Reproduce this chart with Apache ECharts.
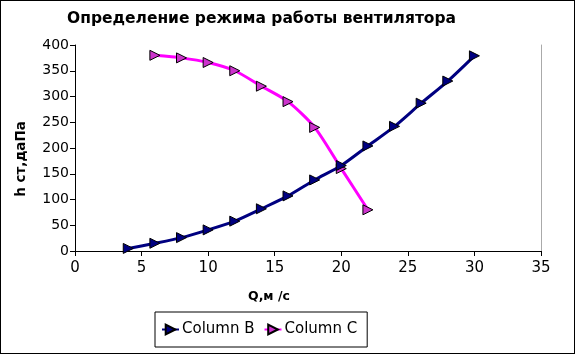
<!DOCTYPE html>
<html><head><meta charset="utf-8">
<script src="https://cdn.jsdelivr.net/npm/echarts@6/dist/echarts.min.js"></script>
<style>html,body{margin:0;padding:0;background:#fff}#c{width:575px;height:354px;box-sizing:border-box;border:1px solid #000}</style>
</head><body><div id="c"></div>
<script>
const titleText = 'Определение режима работы вентилятора';
const xName = 'Q,м /с';
const yName = 'h ст,даПа';
const qB = [4, 6, 8, 10, 12, 14, 16, 18, 20, 22, 24, 26, 28, 30];
const hB = [5, 15, 26, 41, 58, 82, 107, 138, 166, 204, 242, 287, 330, 379];
const qC = [6, 8, 10, 12, 14, 16, 18, 20, 22];
const hC = [380, 375, 366, 350, 320, 290, 240, 160, 80];
const nameB = 'Column B';
const nameC = 'Column C';

const chart = echarts.init(document.getElementById('c'));
const font = 'DejaVu Sans';
chart.setOption({
  animation: false,
  title: {text: titleText, left: 61, top: 5, textStyle: {fontFamily: font, fontSize: 15.5, fontWeight: 'bold', color: '#000'}},
  graphic: [
    {type: 'text', left: 247, top: 289, style: {text: xName, font: 'bold 12.5px "DejaVu Sans"', fill: '#000'}},
    {type: 'text', x: 20, y: 158, rotation: Math.PI / 2, style: {text: yName, font: 'bold 13.5px "DejaVu Sans"', fill: '#000', align: 'center', verticalAlign: 'middle'}}
  ],
  grid: {left: 74, right: 33, top: 44, bottom: 102, containLabel: false},
  xAxis: {type: 'value', min: 0, max: 35, interval: 5,
    axisLine: {lineStyle: {color: '#000', width: 1}},
    axisTick: {show: true, inside: false, length: 5, lineStyle: {color: '#000'}},
    axisLabel: {fontFamily: font, fontSize: 15, color: '#000', margin: 10},
    splitLine: {show: false}},
  yAxis: [{type: 'value', min: 0, max: 400, interval: 50,
    axisLine: {show: true, lineStyle: {color: '#000', width: 1}},
    axisTick: {show: true, inside: false, length: 5, lineStyle: {color: '#000'}},
    axisLabel: {fontFamily: font, fontSize: 14, color: '#000', margin: 6},
    splitLine: {show: false}},
   {type: 'value', min: 0, max: 400, position: 'right',
    axisLine: {show: true, lineStyle: {color: '#aaa', width: 1}},
    axisTick: {show: false}, axisLabel: {show: false}, splitLine: {show: false}}],
  legend: {bottom: 6, left: 154, padding: [10, 10, 10, 6], itemGap: 9, itemWidth: 17, itemHeight: 12,
    borderColor: '#000', borderWidth: 1,
    textStyle: {fontFamily: font, fontSize: 15, color: '#000', padding: [0, 0, 0, -2]},
    data: [nameB, nameC]},
  series: [
    {name: nameB, type: 'line', smooth: 0.25, data: qB.map((q, i) => [q, hB[i]]),
     lineStyle: {color: '#000080', width: 3}, itemStyle: {color: '#000080', borderColor: '#000', borderWidth: 1},
     symbol: 'triangle', symbolSize: 10, symbolRotate: -90, z: 3},
    {name: nameC, type: 'line', smooth: 0.25, data: qC.map((q, i) => [q, hC[i]]),
     lineStyle: {color: '#ff00ff', width: 3}, itemStyle: {color: '#cc33cc', borderColor: '#000', borderWidth: 1},
     symbol: 'triangle', symbolSize: 10, symbolRotate: -90, z: 2}
  ]
});
</script></body></html>
